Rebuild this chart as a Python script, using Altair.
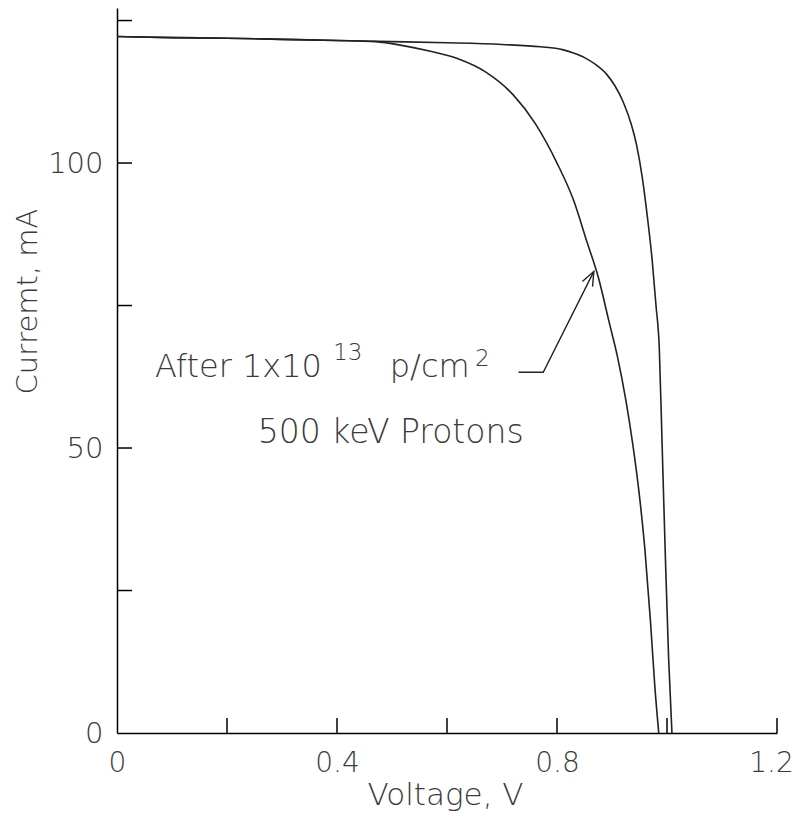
import altair as alt
import pandas as pd

# ---- data ----
V_BEFORE = [0.0, 0.1, 0.2, 0.3, 0.4, 0.5, 0.6, 0.7, 0.77, 0.81, 0.83, 0.85, 0.87, 0.89,
            0.905, 0.92, 0.935, 0.945, 0.955, 0.965, 0.973, 0.98, 0.986, 0.991, 0.997, 1.003, 1.009]
I_BEFORE = [122.2, 122.0, 121.9, 121.7, 121.5, 121.3, 121.1, 120.8, 120.4, 119.9, 119.3, 118.5, 117.3, 115.6,
            113.6, 110.8, 106.8, 103.0, 97.5, 90.0, 83.0, 75.0, 67.5, 51.0, 31.0, 13.0, 0.0]

V_AFTER = [0.0, 0.1, 0.2, 0.3, 0.4, 0.47, 0.52, 0.57, 0.62, 0.67, 0.72, 0.76, 0.80, 0.83,
           0.855, 0.875, 0.895, 0.91, 0.925, 0.938, 0.95, 0.96, 0.97, 0.978, 0.985]
I_AFTER = [122.2, 122.0, 121.9, 121.7, 121.5, 121.3, 120.6, 119.6, 118.3, 116.0, 112.0, 107.0, 100.0, 93.5,
           86.0, 80.0, 72.0, 66.0, 58.5, 50.5, 41.5, 32.0, 19.5, 8.0, 0.0]

X_TICKS = [0.2, 0.4, 0.6, 0.8, 1.0, 1.2]
Y_TICKS = [25, 50, 75, 100, 125]
X_LABELS = [0, 0.4, 0.8, 1.2]
Y_LABELS = [0, 50, 100]

# annotation (data coordinates)
ANN_TEXT = ["After 1x10", "13", "p/cm", "2", "500 keV Protons"]
ANN_V = [0.069, 0.393, 0.496, 0.651, 0.256]
ANN_I = [62.5, 65.4, 62.5, 64.4, 50.9]
ANN_SIZE = [32, 23, 32, 23, 33]

ARROW_V = [0.730, 0.775, 0.867]
ARROW_I = [63.3, 63.3, 81.0]

W, H = 660, 725
FONT = "DejaVu Sans"
INK = "#222222"
TXT = "#3a3a3a"

curves = pd.DataFrame({
    "V": V_BEFORE + V_AFTER,
    "I": I_BEFORE + I_AFTER,
    "curve": ["before"] * len(V_BEFORE) + ["after"] * len(V_AFTER),
})

xscale = alt.Scale(domain=[0, 1.2], nice=False, zero=False)
yscale = alt.Scale(domain=[0, 127.2], nice=False, zero=False)

xaxis = alt.Axis(values=X_LABELS, format="~g", title="Voltage, V", ticks=False, tickSize=0,
                 grid=False, labelFlush=False, labelOverlap=False, labelPadding=16,
                 labelOffset={"condition": {"test": "datum.value >= 1.19", "value": -6}, "value": 0},
                 labelFont=FONT, labelFontSize=28, labelColor=TXT, labelFontWeight=300,
                 titleFont=FONT, titleFontSize=31, titleFontWeight=300, titleColor=TXT,
                 titleX=328, titleY=71, titleBaseline="alphabetic", titleAlign="center",
                 domainColor="#000000", domainWidth=1.5)
yaxis = alt.Axis(values=Y_LABELS, format="d", title="Curremt, mA", ticks=False, tickSize=0,
                 grid=False, labelOverlap=False, labelPadding=14, labelFlush=False,
                 labelFont=FONT, labelFontSize=29, labelColor=TXT, labelFontWeight=300,
                 titleFont=FONT, titleFontSize=29, titleFontWeight=300, titleColor=TXT,
                 titleX=-90, titleY=293, titleAngle=270, titleAlign="center", titleBaseline="middle",
                 domainColor="#000000", domainWidth=1.5)

lines = alt.Chart(curves).mark_line(color=INK, strokeWidth=1.6, interpolate="monotone").encode(
    x=alt.X("V:Q", scale=xscale, axis=xaxis),
    y=alt.Y("I:Q", scale=yscale, axis=yaxis),
    detail="curve:N",
)

xt = alt.Chart(pd.DataFrame({"t": X_TICKS})).mark_rule(color="#000000", strokeWidth=1.5).encode(
    x=alt.X("t:Q", scale=xscale), y=alt.value(H), y2=alt.value(H - 15))
yt = alt.Chart(pd.DataFrame({"t": Y_TICKS})).mark_rule(color="#000000", strokeWidth=1.5).encode(
    y=alt.Y("t:Q", scale=yscale), x=alt.value(0), x2=alt.value(15))

ann = pd.DataFrame({"text": ANN_TEXT, "V": ANN_V, "I": ANN_I, "size": ANN_SIZE})
texts = alt.Chart(ann).mark_text(align="left", baseline="alphabetic", font=FONT, color=TXT,
                                 fontWeight=300).encode(
    x=alt.X("V:Q", scale=xscale), y=alt.Y("I:Q", scale=yscale), text="text:N",
    size=alt.Size("size:Q", scale=None, legend=None))

arrow_df = pd.DataFrame({"V": ARROW_V, "I": ARROW_I, "o": [0, 1, 2]})
arrow = alt.Chart(arrow_df).mark_line(color=INK, strokeWidth=1.4).encode(
    x=alt.X("V:Q", scale=xscale), y=alt.Y("I:Q", scale=yscale), order="o:Q")
head = alt.Chart(arrow_df.iloc[[2]]).mark_point(
    shape="M -0.38 0.95 L 0 0 L 0.38 0.95", filled=False, angle=26.6, size=900,
    color=INK, strokeWidth=1.4, opacity=1).encode(
    x=alt.X("V:Q", scale=xscale), y=alt.Y("I:Q", scale=yscale))

chart = alt.layer(lines, xt, yt, texts, arrow, head).properties(
    width=W, height=H,
    padding={"left": 109, "top": 0, "right": 18, "bottom": 78},
    autosize=alt.AutoSizeParams(type="none"),
    background="white",
).configure_view(stroke=None)

chart.save("out.html", embed_options={"renderer": "svg", "actions": False})
